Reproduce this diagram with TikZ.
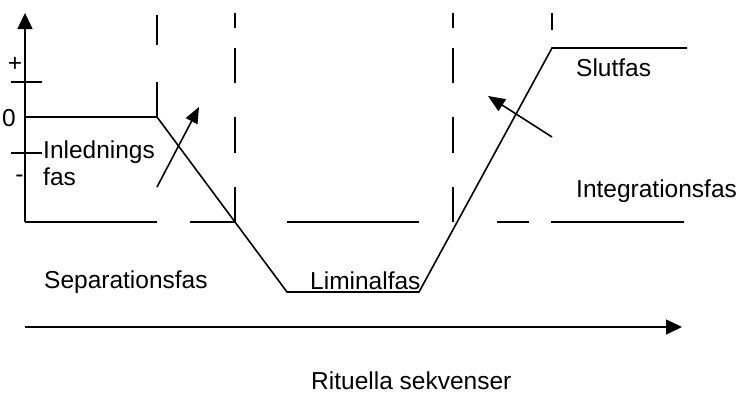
\documentclass[tikz,border=0pt]{standalone}
\usepackage{fontspec}
\setmainfont{Liberation Sans}
\usetikzlibrary{arrows.meta}
\begin{document}
\begin{tikzpicture}[x=1pt,y=-1pt,
  line/.style={line width=1.6pt, line cap=butt, line join=miter},
  lbl/.style={inner sep=0pt, anchor=base west, font=\fontsize{24.5}{27}\selectfont},
  sym/.style={inner sep=0pt, anchor=base, font=\fontsize{24.5}{27}\selectfont}]
\useasboundingbox (0,0) rectangle (744,394);
% axis
\coordinate (ax0) at (25,222);
\coordinate (axtop) at (25,13);
\draw[line,-{Triangle[length=16pt,width=15pt]}] (ax0) -- (axtop);
\draw[line] (11,82) -- (42,82);
\draw[line] (11,153) -- (42,153);
\node[sym] (plus) at (15,71.5) {+};
\node[sym] (zero) at (9,126) {0};
\node[sym] (minus) at (19.5,182) {-};
% ritual curve
\coordinate (p0) at (25,117);
\coordinate (p1) at (157,117);
\coordinate (p2) at (287,292);
\coordinate (p3) at (419,292);
\coordinate (p4) at (552,48);
\coordinate (p5) at (687,48);
\draw[line] (p0) -- (p1) -- (p2) -- (p3) -- (p4) -- (p5);
% dashed verticals
\draw[line] (157,15) -- (157,45) (157,82) -- (157,117);
\foreach \x in {235,453}{
  \draw[line] (\x,13) -- (\x,28) (\x,48) -- (\x,83) (\x,117) -- (\x,153) (\x,187) -- (\x,222);
}
\draw[line] (552,13) -- (552,30);
% dashed horizontal
\draw[line] (ax0) -- (157,222) (190,222) -- (235,222) (287,222) -- (419,222)
  (497,222) -- (529,222) (551,222) -- (684,222);
% arrows
\coordinate (a1s) at (157,187);
\coordinate (a1e) at (199,107);
\draw[line,-{Triangle[length=16pt,width=13pt]}] (a1s) -- (a1e);
\coordinate (a2s) at (552,137);
\coordinate (a2e) at (488,96);
\draw[line,-{Triangle[length=17pt,width=14pt]}] (a2s) -- (a2e);
% time axis
\coordinate (t0) at (25,327);
\coordinate (t1) at (682,327);
\draw[line,-{Triangle[length=16pt,width=15pt]}] (t0) -- (t1);
% labels
\node[lbl] (inl) at (43,158) {Inlednings};
\node[lbl] (inl2) at (43,185) {fas};
\node[lbl] (sep) at (44,288) {Separationsfas};
\node[lbl] (lim) at (310,289) {Liminalfas};
\node[lbl] (slut) at (576,76) {Slutfas};
\node[lbl] (integ) at (576,197) {Integrationsfas};
\node[lbl] (rit) at (311,389) {Rituella sekvenser};
\end{tikzpicture}
\end{document}
